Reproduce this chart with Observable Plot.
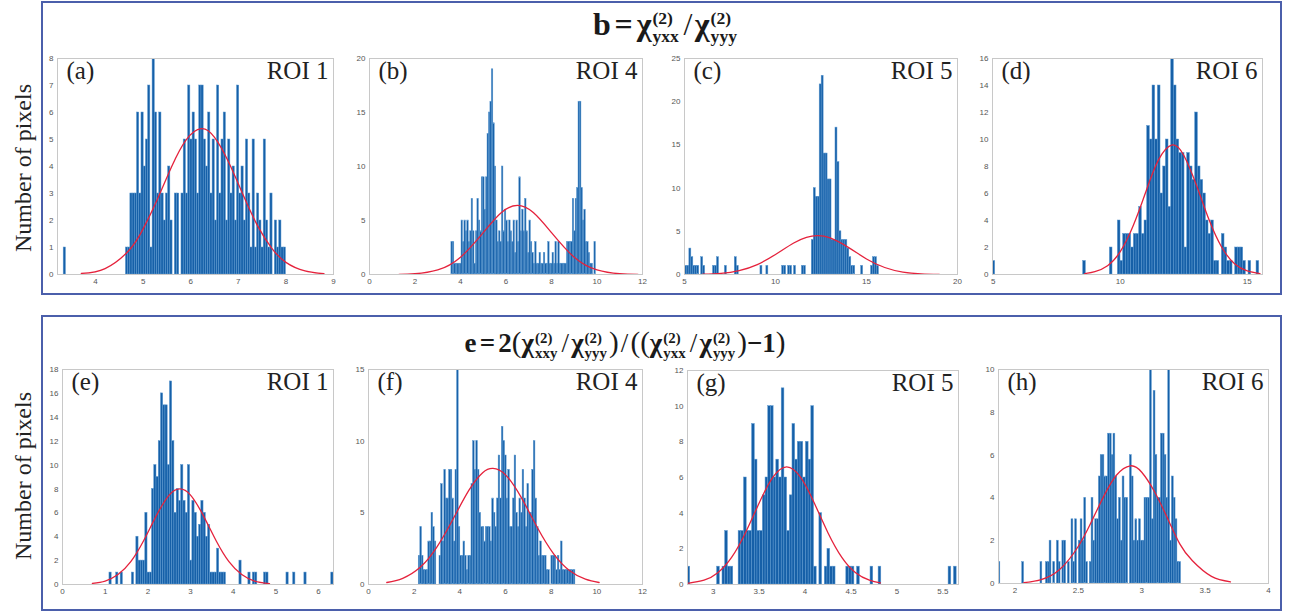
<!DOCTYPE html>
<html><head><meta charset="utf-8">
<script src="https://cdn.jsdelivr.net/npm/d3@7"></script>
<script src="https://cdn.jsdelivr.net/npm/@observablehq/plot@0.6"></script>
<style>
html,body{margin:0;padding:0;background:#fff;}
body{width:1299px;height:614px;position:relative;overflow:hidden;font-family:"Liberation Serif",serif;}
.frame{position:absolute;border:2.5px solid #4b5fab;box-sizing:border-box;}
.ylab{position:absolute;font-family:"Liberation Serif",serif;font-size:24px;color:#222;white-space:nowrap;transform:translate(-50%,-50%) rotate(-90deg);}
.title{position:absolute;font-family:"Liberation Serif",serif;font-weight:bold;color:#1a1a1a;white-space:nowrap;transform:translateX(-50%);line-height:1;}
.ss{display:inline-flex;flex-direction:column;font-size:0.55em;line-height:1;vertical-align:0.6em;margin-left:1px;margin-right:2px;}
.ss span{display:block;}
.op{margin:0 0.12em;}
.sl{margin:0 0.08em;font-weight:normal;}
.pr{font-weight:normal;font-size:1.08em;}
.panel{position:absolute;}
</style></head><body>
<div class="frame" style="left:41px;top:1px;width:1241px;height:294px;"></div>
<div class="frame" style="left:41px;top:315px;width:1241px;height:296px;"></div>
<div class="ylab" style="left:23px;top:168px;">Number of pixels</div>
<div class="ylab" style="left:23px;top:476px;">Number of pixels</div>
<div class="title" style="left:666px;top:8px;font-size:32px;">b<span class="op">=</span>χ<span class="ss"><span>(2)</span><span>yxx</span></span><span class="sl">/</span>χ<span class="ss"><span>(2)</span><span>yyy</span></span></div>
<div class="title" style="left:625px;top:328px;font-size:27px;">e<span class="op">=</span>2<span class="pr">(</span>χ<span class="ss"><span>(2)</span><span>xxy</span></span><span class="sl">/</span>χ<span class="ss"><span>(2)</span><span>yyy</span></span><span class="pr">)</span><span class="sl">/</span><span class="pr">((</span>χ<span class="ss"><span>(2)</span><span>yxx</span></span><span class="sl">/</span>χ<span class="ss"><span>(2)</span><span>yyy</span></span><span class="pr">)</span>−1<span class="pr">)</span></div>
<script>
// ---------- DATA ----------
const panelTags = ["(a)","(b)","(c)","(d)","(e)","(f)","(g)","(h)"];
const roiLabels = ["ROI 1","ROI 4","ROI 5","ROI 6","ROI 1","ROI 4","ROI 5","ROI 6"];

// histogram bins: first bin left edge, bin width, counts
const binStartA = 3.33, binWidthA = 0.0467;
const countsA = [1,0,0,0,0,0,0,0,0,0, 0,0,0,0,0,0,0,0,0,0, 0,0,0,0,0,0,0,0,
 1,1,3,3,3,6,3,6,4,5, 7,1,8,6,3,6,3,2,3,4, 2,0,3,3,0,3,5,3,7,5, 6,5,3,7,7,5,4,6,3,5,
 2,7,3,5,6,2,5,3,4,2, 7,3,4,2,5,3,1,5,1,3, 2,1,5,2,1,3,0,2,1,2, 1,1];
const binStartB = 3.6, binWidthB = 0.0635;
const countsB = [3,3,1,1,1,1,1,5,3,5, 4,5,3,4,7,4,1,4,7,5, 4,9,9,6,9,13,15,16,19,14,
 10,5,3,4,3,10,4,6,5,3, 5,4,3,5,2,5,3,9,4,6, 4,7,4,2,5,3,2,1,3,1,
 1,2,1,1,2,1,1,3,1,1, 2,1,3,1,3,1,1,1,1,1, 3,3,3,3,7,4,7,8,16,16, 8,5,6,3,3,2,1,1,0,3];
const binStartC = 5.05, binWidthC = 0.1085;
const countsC = [1,1,3,2,1,1,1,0,2,1, 0,0,0,0,1,1,2,0,0,0, 1,0,0,0,0,2,1,0,0,0,
 0,0,0,0,0,0,0,0,1,0, 0,1,0,0,0,0,0,0,0,1, 1,0,1,1,0,1,0,0,0,1,
 1,0,0,0,4,10,9,9,22,23, 14,14,11,11,4,4,17,13,5,4, 4,4,3,2,1,1,0,0,0,1, 0,0,0,0,1,2,2,1,0,0];
const binStartD = 4.97, binWidthD = 0.105;
const countsD = [1,0,0,0,0,0,0,0,0,0, 0,0,0,0,0,0,0,0,0,0, 0,0,0,0,0,0,0,0,0,0,
 0,0,0,0,1,0,0,0,0,0, 0,0,0,0,2,0,0,4,1,3, 3,3,2,3,3,5,3,4,11,10,
 14,10,14,6,8,10,5,16,14,10, 9,9,2,9,8,7,12,8,7,6, 4,3,4,1,1,0,3,2,1,1, 0,2,2,2,1,0,1,0,0,1];
const binStartE = 1.1, binWidthE = 0.0525;
const countsE = [1,0,0,1,0,1,0,0,0,0, 1,0,4,2,2,2,6,1,1,8, 10,9,12,16,15,15,10,17,12,6,
 8,7,10,7,6,10,2,7,6,4, 5,7,6,4,5,1,1,1,3,1, 1,1,0,0,0,0,0,0,2,0,
 0,0,1,0,1,1,0,0,0,1, 1,0,0,0,0,0,0,0,0,1, 0,0,1,0,0,0,0,1,0,0, 0,0,0,0,0,0,0,0,0,1];
const binStartF = 2.2, binWidthF = 0.07;
const countsF = [2,4,2,1,1,1,3,3,5,4, 3,0,0,2,7,3,8,6,6,8, 8,6,3,8,15,4,2,2,3,2,
 1,2,2,7,10,8,10,8,5,4, 4,3,4,4,4,3,6,5,4,6, 9,6,11,10,9,6,8,4,4,6,
 9,5,4,6,5,8,6,4,7,5, 5,8,10,6,4,2,3,2,2,2, 1,1,0,2,2,2,1,2,1,3, 1,1,1,1,1,1,1,1,0];
const binStartG = 2.72, binWidthG = 0.0293;
const countsG = [1,0,0,0,0,0,0,0,0,0, 0,1,0,1,3,1,1,0,0,3, 3,6,3,3,9,7,3,3,5,6,
 10,10,6,7,6,11,6,3,5,9, 7,8,8,6,8,7,10,1,0,4, 0,1,2,1,1,0,0,0,0,1,
 1,1,0,1,0,0,0,0,1,0, 0,1,0,0,0,0,0,0,0,0, 0,0,0,0,0,0,0,0,0,0, 0,0,0,0,0,0,0,1,0,1];
const binStartH = 1.87, binWidthH = 0.0144;
const countsH = [1,0,0,0,0,0,0,0,0,0, 0,0,0,1,0,0,0,0,0,0, 0,0,0,1,0,0,1,1,2,0,
 1,0,2,1,0,2,2,0,1,0, 3,1,3,0,2,3,2,4,1,0, 1,4,2,3,3,5,6,6,5,5,
 7,7,6,7,5,3,4,2,5,4, 4,0,6,5,2,3,2,3,2,2, 4,4,4,10,3,9,6,4,4,7, 7,6,4,10,2,5,4,3,1,1];

// fitted curves
const curveAx = [3.7,4.2,4.7,5.0,5.3,5.6,5.9,6.22,6.5,6.8,7.1,7.4,7.7,8.0,8.4,8.8];
const curveAy = [0.04,0.22,0.89,1.69,2.79,4.0,4.98,5.4,5.08,4.15,2.95,1.82,0.98,0.45,0.13,0.03];
const curveBx = [1.3,2,3,4,5,5.8,6.5,7.2,8,9,10,11,11.8];
const curveBy = [0.02,0.07,0.42,1.6,3.88,5.74,6.4,5.74,3.88,1.6,0.42,0.07,0.01];
const curveCx = [6,7,8,9,10,11,11.7,12.3,13,14,15,16,17,18,19];
const curveCy = [0.03,0.13,0.45,1.15,2.32,3.64,4.3,4.5,4.23,3.14,1.8,0.81,0.28,0.08,0.02];
const curveDx = [8.6,9,9.5,10,10.5,11,11.5,12.05,12.5,13,13.5,14,14.5,15,15.5];
const curveDy = [0.07,0.21,0.65,1.69,3.57,6.09,8.47,9.6,8.83,6.61,4.03,2.0,0.8,0.26,0.07];
const curveEx = [0.7,1.0,1.3,1.6,1.9,2.2,2.5,2.75,3.0,3.3,3.6,3.9,4.2,4.5,4.85];
const curveEy = [0.09,0.29,0.83,1.91,3.66,5.77,7.48,8,7.48,5.77,3.66,1.91,0.83,0.29,0.07];
const curveFx = [0.8,1.5,2.3,3.0,3.7,4.4,5.0,5.45,6.0,6.7,7.4,8.1,8.8,9.5,10.1];
const curveFy = [0.14,0.43,1.25,2.62,4.55,6.58,7.8,8.1,7.65,6.04,3.96,2.16,0.98,0.37,0.14];
const curveGx = [2.72,2.9,3.05,3.2,3.35,3.5,3.65,3.8,3.95,4.1,4.25,4.4,4.55,4.7,4.82];
const curveGy = [0.06,0.24,0.66,1.52,2.89,4.57,6.02,6.6,6.02,4.57,2.89,1.52,0.66,0.24,0.09];
const curveHx = [2.07,2.2,2.35,2.5,2.6,2.7,2.8,2.91,3.0,3.1,3.2,3.3,3.4,3.55,3.7];
const curveHy = [0.04,0.17,0.64,1.74,2.85,4.07,5.06,5.5,5.2,4.3,3.09,1.85,1.06,0.33,0.08];

// axis domains and tick labels
const xDomains = [[3.2,9],[0,12],[5,20],[4.97,15.6],[0,6.35],[0,12],[2.72,5.67],[1.87,4]];
const yDomains = [[0,8],[0,20],[0,25],[0,16],[0,18],[0,15],[0,12],[0,10]];
const xTicks = [[4,5,6,7,8,9],[0,2,4,6,8,10,12],[5,10,15,20],[5,10,15],[0,1,2,3,4,5,6],[0,2,4,6,8,10,12],[3,3.5,4,4.5,5,5.5],[2,2.5,3,3.5,4]];
const yTicks = [[0,1,2,3,4,5,6,7,8],[0,5,10,15,20],[0,5,10,15,20,25],[0,2,4,6,8,10,12,14,16],[0,2,4,6,8,10,12,14,16,18],[0,5,10,15],[0,2,4,6,8,10,12],[0,2,4,6,8,10]];

// ---------- LAYOUT (pixel plot areas) ----------
const layout = [
  {left:57, top:58, w:276, h:216},
  {left:369, top:58, w:273, h:216},
  {left:684, top:58, w:273, h:216},
  {left:992, top:58, w:270, h:216},
  {left:62, top:369, w:271, h:215},
  {left:368, top:369, w:274, h:215},
  {left:687, top:370, w:271, h:214},
  {left:998, top:369, w:270, h:214}
];

const hist = [
  [binStartA,binWidthA,countsA,curveAx,curveAy],
  [binStartB,binWidthB,countsB,curveBx,curveBy],
  [binStartC,binWidthC,countsC,curveCx,curveCy],
  [binStartD,binWidthD,countsD,curveDx,curveDy],
  [binStartE,binWidthE,countsE,curveEx,curveEy],
  [binStartF,binWidthF,countsF,curveFx,curveFy],
  [binStartG,binWidthG,countsG,curveGx,curveGy],
  [binStartH,binWidthH,countsH,curveHx,curveHy]
];

const M = {l:26, r:8, t:4, b:16};
hist.forEach(([start, width, counts, cx, cy], k) => {
  const L = layout[k];
  const bins = counts.map((c,i)=>({x1:start+i*width, x2:start+(i+1)*width, c})).filter(d=>d.c>0);
  const curve = cx.map((x,i)=>({x, y:cy[i]}));
  const svg = Plot.plot({
    width: L.w + M.l + M.r, height: L.h + M.t + M.b,
    marginLeft: M.l, marginRight: M.r, marginTop: M.t, marginBottom: M.b,
    style: {fontFamily:"'Liberation Sans', Arial, sans-serif", fontSize:"8px", color:"#555", background:"transparent", overflow:"visible"},
    x: {domain: xDomains[k]},
    y: {domain: yDomains[k]},
    marks: [
      Plot.rectY(bins, {x1:"x1", x2:"x2", y:"c", fill:"#1660a8", stroke:"#5b98d0", strokeWidth:0.5, clip:true}),
      Plot.line(curve, {x:"x", y:"y", stroke:"#e5223c", strokeWidth:1.3, curve:"natural", clip:true}),
      Plot.frame({stroke:"#c8c8c8"}),
      Plot.axisX(xTicks[k], {tickSize:0, tickPadding:4, label:null, fill:"#555", tickFormat:d=>String(d)}),
      Plot.axisY(yTicks[k], {tickSize:0, tickPadding:4, label:null, fill:"#555", tickFormat:d=>String(d)}),
      Plot.text([panelTags[k]], {frameAnchor:"top-left", dx:9, dy:3, lineAnchor:"top", textAnchor:"start", fontSize:25, fontFamily:"'Liberation Serif', serif", fill:"#222"}),
      Plot.text([roiLabels[k]], {frameAnchor:"top-right", dx:-5, dy:3, lineAnchor:"top", textAnchor:"end", fontSize:25, fontFamily:"'Liberation Serif', serif", fill:"#222"})
    ]
  });
  svg.classList.add("panel");
  svg.style.left = (L.left - M.l) + "px";
  svg.style.top = (L.top - M.t) + "px";
  document.body.appendChild(svg);
});
</script>
</body></html>
